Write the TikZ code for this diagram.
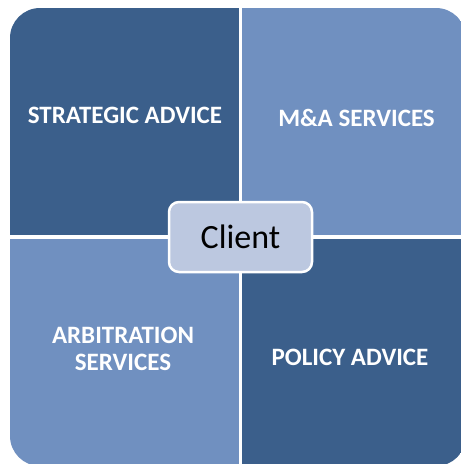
\documentclass[tikz,border=0pt]{standalone}
\usepackage{fontspec}
\setmainfont{Carlito}
\definecolor{qdark}{RGB}{59,95,139}
\definecolor{qlight}{RGB}{112,144,192}
\definecolor{clientfill}{RGB}{188,200,224}
\tikzset{
  quad/.style={draw=none},
  qlabel/.style={text=white, font=\bfseries\fontsize{25}{27}\selectfont, align=center, inner sep=0pt},
  clientbox/.style={draw=white, line width=2.5pt, fill=clientfill, rounded corners=10pt, minimum width=143pt, minimum height=70pt, font=\fontsize{34}{40}\selectfont, text=black, inner sep=0pt}
}
\begin{document}
\begin{tikzpicture}[x=1pt,y=-1pt]
\useasboundingbox (0,0) rectangle (461,464);
\begin{scope}
\clip[rounded corners=30pt] (10,8) rectangle (466,466);
\fill[qdark]  (10,8) rectangle (239,235);
\fill[qlight] (242,8) rectangle (466,235);
\fill[qlight] (10,239) rectangle (239,466);
\fill[qdark]  (242,239) rectangle (466,466);
\end{scope}
\node[qlabel] (strat) at (125,115.5) {STRATEGIC ADVICE};
\node[qlabel] (ma) at (356.5,117.5) {M\&A SERVICES};
\node[qlabel] (arb) at (123,349) {ARBITRATION\\SERVICES};
\node[qlabel] (policy) at (350,357.5) {POLICY ADVICE};
\node[clientbox] (client) at (240.5,237) {Client};
\end{tikzpicture}
\end{document}
